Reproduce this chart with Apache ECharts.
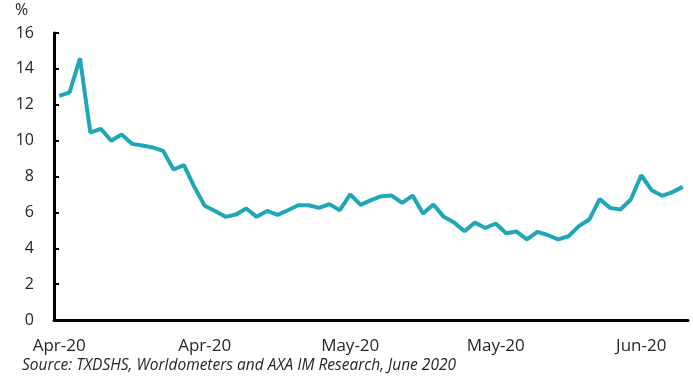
<!DOCTYPE html>
<html><head><meta charset="utf-8">
<script src="https://cdn.jsdelivr.net/npm/echarts@6/dist/echarts.min.js"></script>
<style>html,body{margin:0;padding:0;background:#fff}#c{width:693px;height:377px}</style>
</head><body><div id="c"></div>
<script>
const monthNames = ["Jan","Feb","Mar","Apr","May","Jun","Jul","Aug","Sep","Oct","Nov","Dec"];
const startDate = "2020-04-06";
const positivityRate = [12.5,12.69,14.59,10.44,10.66,9.99,10.34,9.82,9.73,9.62,9.43,8.39,8.63,7.42,
  6.37,6.08,5.75,5.88,6.22,5.75,6.08,5.86,6.12,6.4,6.4,6.25,6.46,6.12,
  7.0,6.42,6.68,6.9,6.94,6.53,6.94,5.94,6.44,5.75,5.43,4.95,5.43,5.13,5.38,4.84,
  4.93,4.49,4.91,4.74,4.49,4.67,5.23,5.6,6.74,6.25,6.16,6.72,8.07,7.24,6.92,7.13,7.42];
const yTicks = {min:0, max:16, interval:2};
const unitLabel = "%";
const sourceText = "Source: TXDSHS, Worldometers and AXA IM Research, June 2020";

const categories = positivityRate.map((_, i) => {
  const d = new Date(startDate + "T00:00:00Z");
  d.setUTCDate(d.getUTCDate() + i);
  return monthNames[d.getUTCMonth()] + "-" + String(d.getUTCFullYear()).slice(2);
});

const font = "Open Sans";
const chart = echarts.init(document.getElementById('c'), null, {renderer:'canvas'});
chart.setOption({
  animation:false,
  backgroundColor:'#fff',
  grid:{left:54, right:5, top:33, bottom:57, containLabel:false},
  xAxis:{
    type:'category', data:categories, boundaryGap:true,
    axisLine:{lineStyle:{color:'#000', width:3}},
    axisTick:{inside:true, length:5, interval:13, lineStyle:{color:'#000', width:2}},
    axisLabel:{interval:13, color:'#262626', fontFamily:font, fontSize:17, margin:18},
    splitLine:{show:false}
  },
  yAxis:{
    type:'value', min:yTicks.min, max:yTicks.max, interval:yTicks.interval,
    axisLine:{show:true, lineStyle:{color:'#000', width:3}},
    axisTick:{show:true, inside:true, length:5, lineStyle:{color:'#000', width:2}},
    axisLabel:{color:'#262626', fontFamily:font, fontSize:16, margin:20},
    splitLine:{show:false}
  },
  series:[{
    type:'line', data:positivityRate, symbol:'none',
    lineStyle:{color:'#1fa6b7', width:4}, z:3
  }],
  graphic:[
    {type:'text', left:15, top:2, style:{text:unitLabel, fill:'#262626', font:'16px "Open Sans"'}},
    {type:'text', left:22, top:358, style:{text:sourceText, fill:'#262626', font:'italic 15.5px "Open Sans"'}}
  ]
});
</script></body></html>
